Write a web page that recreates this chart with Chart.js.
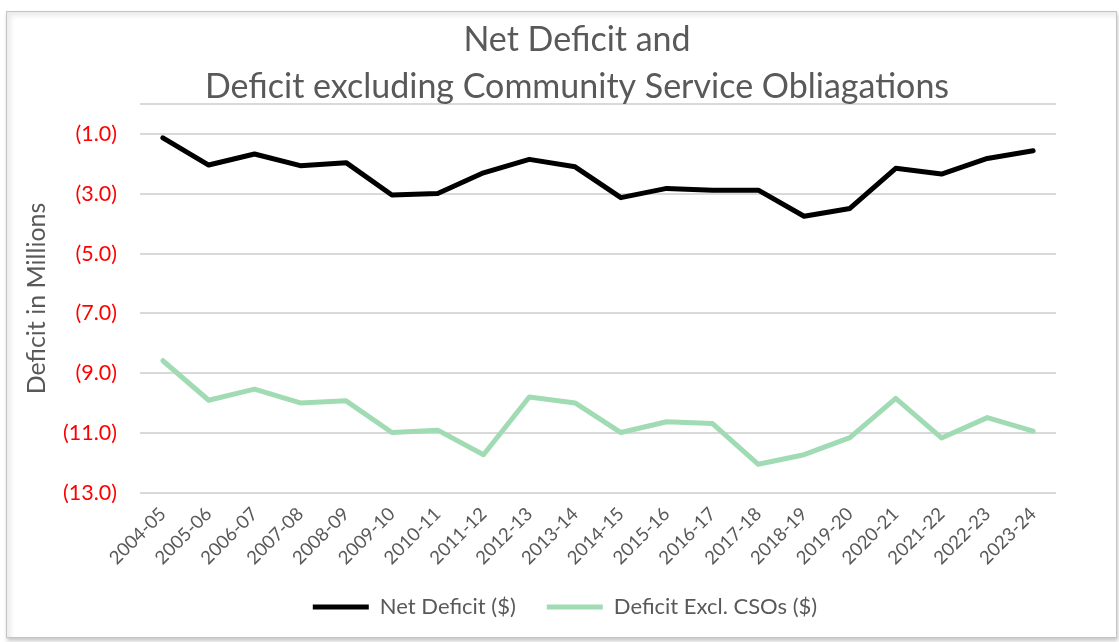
<!DOCTYPE html>
<html>
<head>
<meta charset="utf-8">
<script src="https://cdn.jsdelivr.net/npm/chart.js@4.4.1/dist/chart.umd.min.js"></script>
<style>
  html, body { margin: 0; padding: 0; background: #fff; }
  #wrap { position: relative; width: 1119px; height: 642px; overflow: hidden; }
  #frame {
    position: absolute; left: 6px; top: 11px; width: 1109px; height: 625px;
    border: 1px solid #c4c4c4;
    box-shadow: inset 4px 4px 5px rgba(0,0,0,0.08), 1px 3px 4px rgba(0,0,0,0.22);
    background: #fff;
  }
  #deficitChart { position: absolute; left: 0; top: 0; }
</style>
</head>
<body>
<div id="wrap">
  <div id="frame"></div>
  <canvas id="deficitChart" width="1119" height="642"></canvas>
</div>
<script>
const years = ['2004-05', '2005-06', '2006-07', '2007-08', '2008-09', '2009-10', '2010-11',
  '2011-12', '2012-13', '2013-14', '2014-15', '2015-16', '2016-17', '2017-18', '2018-19',
  '2019-20', '2020-21', '2021-22', '2022-23', '2023-24'];

// $ millions, negative = deficit
const netDeficit = [-1.13, -2.04, -1.67, -2.06, -1.96, -3.04, -2.99, -2.30, -1.85, -2.10,
  -3.13, -2.82, -2.88, -2.88, -3.75, -3.49, -2.15, -2.34, -1.82, -1.56];
const deficitExclCSOs = [-8.58, -9.90, -9.53, -9.99, -9.92, -10.98, -10.90, -11.72, -9.79, -9.99,
  -10.98, -10.62, -10.68, -12.04, -11.72, -11.15, -9.84, -11.16, -10.48, -10.93];

const yTickValues = [-13, -11, -9, -7, -5, -3, -1];
const yMin = -13;
const yMax = 0;

const textGrey = '#595959';
const fontFamily = 'Lato, "Open Sans", sans-serif';

// title and legend sit centred on the whole frame rather than the space left of the right padding
const shiftBlocks = {
  id: 'shiftBlocks',
  afterLayout(chart) {
    chart.boxes.forEach(b => {
      if (b.options && typeof b.options.text === 'string') {
        b.left += 49;
        b.right += 49;
      }
    });
    chart.legend.left += 37;
    chart.legend.right += 37;
  }
};

const ctx = document.getElementById('deficitChart');

new Chart(ctx, {
  type: 'line',
  data: {
    labels: years,
    datasets: [
      {
        label: 'Net Deficit ($)',
        data: netDeficit,
        borderColor: '#000000',
        backgroundColor: '#000000',
        borderWidth: 5,
        borderCapStyle: 'round',
        borderJoinStyle: 'round',
        pointRadius: 0,
        pointStyle: 'line',
        tension: 0
      },
      {
        label: 'Deficit Excl. CSOs ($)',
        data: deficitExclCSOs,
        borderColor: '#a0dbb4',
        backgroundColor: '#a0dbb4',
        borderWidth: 5,
        borderCapStyle: 'round',
        borderJoinStyle: 'round',
        pointRadius: 0,
        pointStyle: 'line',
        tension: 0
      }
    ]
  },
  options: {
    responsive: false,
    animation: false,
    layout: { padding: { left: 0, right: 63, top: 0, bottom: 14 } },
    plugins: {
      title: {
        display: true,
        text: 'Net Deficit and',
        color: textGrey,
        font: { family: fontFamily, size: 34, weight: 'normal', lineHeight: 1 },
        padding: { top: 23, bottom: 6 }
      },
      subtitle: {
        display: true,
        text: 'Deficit excluding Community Service Obliagations',
        color: textGrey,
        font: { family: fontFamily, size: 34, weight: 'normal', lineHeight: 1 },
        padding: { top: 7, bottom: 0 }
      },
      legend: {
        position: 'bottom',
        labels: {
          usePointStyle: true,
          pointStyleWidth: 56,
          boxHeight: 5,
          padding: 31,
          color: textGrey,
          font: { family: fontFamily, size: 22 }
        }
      },
      tooltip: { enabled: false }
    },
    scales: {
      x: {
        offset: true,
        grid: { display: false, drawTicks: false },
        border: { display: false },
        ticks: {
          color: textGrey,
          font: { family: fontFamily, size: 18.5 },
          minRotation: 45,
          maxRotation: 45,
          padding: 10,
          autoSkip: false
        },
        afterFit: scale => { scale.height = 72; }
      },
      y: {
        min: yMin,
        max: yMax,
        afterBuildTicks: scale => {
          scale.ticks = yTickValues.concat([yMax]).map(v => ({ value: v }));
        },
        grid: { color: '#d9d9d9', lineWidth: 2, drawTicks: false },
        border: { display: false },
        ticks: {
          color: '#ff0000',
          font: { family: fontFamily, size: 21.5 },
          padding: 23,
          callback: v => v === 0 ? '' : '(' + Math.abs(v).toFixed(1) + ')'
        },
        title: {
          display: true,
          text: 'Deficit in Millions',
          color: textGrey,
          font: { family: fontFamily, size: 25 },
          padding: { top: 22, bottom: 0 }
        },
        afterFit: scale => { scale.width = 140; }
      }
    }
  },
  plugins: [shiftBlocks]
});
</script>
</body>
</html>
